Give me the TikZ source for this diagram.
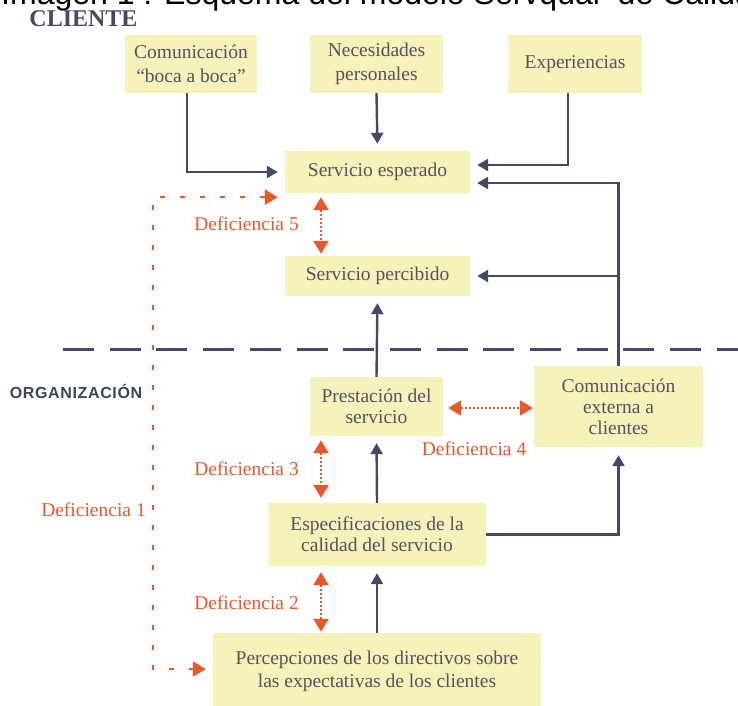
\documentclass[tikz,border=0pt]{standalone}
\usepackage{fontspec}
\setmainfont{Liberation Serif}
\newfontfamily\titlesans{Liberation Sans}
\newfontfamily\orgsans[LetterSpace=4]{Liberation Sans}
\usetikzlibrary{arrows.meta,calc}
\definecolor{navy}{HTML}{434A68}
\definecolor{orng}{HTML}{E8582A}
\definecolor{boxfill}{HTML}{F5F2BA}
\definecolor{txt}{HTML}{575262}
\tikzset{
  box/.style={fill=boxfill, draw=none, inner sep=0pt, align=center, text=txt,
    font=\fontsize{19.5}{21}\selectfont},
  conn/.style={draw=navy, line width=2.4pt, -{Triangle[length=11pt,width=12pt]}, shorten >=7pt},
  dbl/.style={draw=orng, line width=2.4pt, dash pattern=on 2pt off 2pt,
    {Triangle[length=13pt,width=15pt]}-{Triangle[length=13pt,width=15pt]}},
  odash/.style={draw=orng, line width=2.4pt, dash pattern=on 5pt off 15pt,
    {Triangle[length=13pt,width=15pt]}-{Triangle[length=13pt,width=15pt]}},
  deflabel/.style={text=orng, inner sep=0pt, font=\fontsize{19.5}{21}\selectfont},
}
\begin{document}
\begin{tikzpicture}[x=1pt,y=-1pt]
\useasboundingbox (0,0) rectangle (738,705);
\fill[white] (0,0) rectangle (738,705);
% cut title line
\begin{scope}
\clip (0,0) rectangle (738,705);
\node[anchor=base west, inner sep=0pt, font=\titlesans\fontsize{32}{34}\selectfont] (title) at (1,4) {Imagen 1 : Esquema del modelo Servqual \ de Calidad};
\end{scope}
\node[inner sep=0pt, text=navy, font=\bfseries\fontsize{24}{26}\selectfont] (cliente) at (83.5,18.5) {CLIENTE};
\node[inner sep=0pt, text=navy!90!black, font=\orgsans\bfseries\fontsize{16}{18}\selectfont] (org) at (76,391) {ORGANIZACIÓN};

% boxes
\node[box, minimum width=132pt, minimum height=58pt, font=\fontsize{19.5}{24}\selectfont] (boca) at (191,64) {Comunicación\\“boca a boca”};
\node[box, minimum width=133pt, minimum height=58pt, font=\fontsize{19.5}{24}\selectfont] (nec) at (376.5,64) {Necesidades\\personales};
\node[box, minimum width=134pt, minimum height=58pt] (exper) at (575,64) {Experiencias};
\node[box, minimum width=185pt, minimum height=42pt] (esp) at (377.5,172) {Servicio esperado};
\node[box, minimum width=185pt, minimum height=40pt] (perc) at (377.5,276) {Servicio percibido};
\node[box, minimum width=133pt, minimum height=59pt] (pres) at (376.5,406.5) {Prestación del\\servicio};
\node[box, minimum width=169pt, minimum height=81pt] (ext) at (618.5,406.5) {Comunicación\\externa a\\clientes};
\node[box, minimum width=218pt, minimum height=63pt] (espec) at (377,534.5) {Especificaciones de la\\calidad del servicio};
\node[box, minimum width=328pt, minimum height=76pt, font=\fontsize{19.5}{23}\selectfont] (percep) at (377,671) {Percepciones de los directivos sobre\\las expectativas de los clientes};

% divider
\coordinate (divL) at (63,349);
\coordinate (divR) at (760,349);
\draw[navy, line width=3pt, dash pattern=on 31pt off 15.7pt] (divL) -- (divR);

% navy connectors
\draw[conn] ([xshift=-4pt]boca.south) |- (esp.west);
\draw[conn] (nec.south) -- (esp.north);
\draw[conn] ([xshift=-7pt]exper.south) |- ([yshift=7pt]esp.east);
\draw[conn] (ext.north) |- ([yshift=-11pt]esp.east);
\draw[conn] (ext.north |- perc.east) -- (perc.east);
\draw[conn] (pres.north) -- (perc.south);
\draw[conn] (espec.north) -- (pres.south);
\draw[conn] (percep.north) -- (espec.south);
\draw[conn, shorten >=8pt] (espec.east) -| (ext.south);

% gaps
\coordinate (dx) at (321,0);
\coordinate (d1) at (153,669);
\draw[dbl, shorten <=4pt, shorten >=2pt] (esp.south -| dx) -- (perc.north -| dx);
\draw[dbl, shorten <=4pt, shorten >=5pt] (pres.south -| dx) -- (espec.north -| dx);
\draw[dbl, shorten <=6pt, shorten >=1pt] (espec.south -| dx) -- (percep.north -| dx);
\draw[dbl, shorten <=5pt, shorten >=1pt] ([yshift=-1.5pt]pres.east) -- ([yshift=-1.5pt]pres.east -| ext.west);
\draw[odash, shorten <=7pt, shorten >=7pt] ([yshift=-4pt]esp.south west) -| (d1) -- (d1 -| percep.west);

% labels
\node[deflabel] (l5) at (246.5,224) {Deficiencia 5};
\node[deflabel] (l3) at (246.5,469) {Deficiencia 3};
\node[deflabel] (l2) at (246.5,603) {Deficiencia 2};
\node[deflabel] (l1) at (93.5,510) {Deficiencia 1};
\node[deflabel] (l4) at (474,449) {Deficiencia 4};
\end{tikzpicture}
\end{document}
